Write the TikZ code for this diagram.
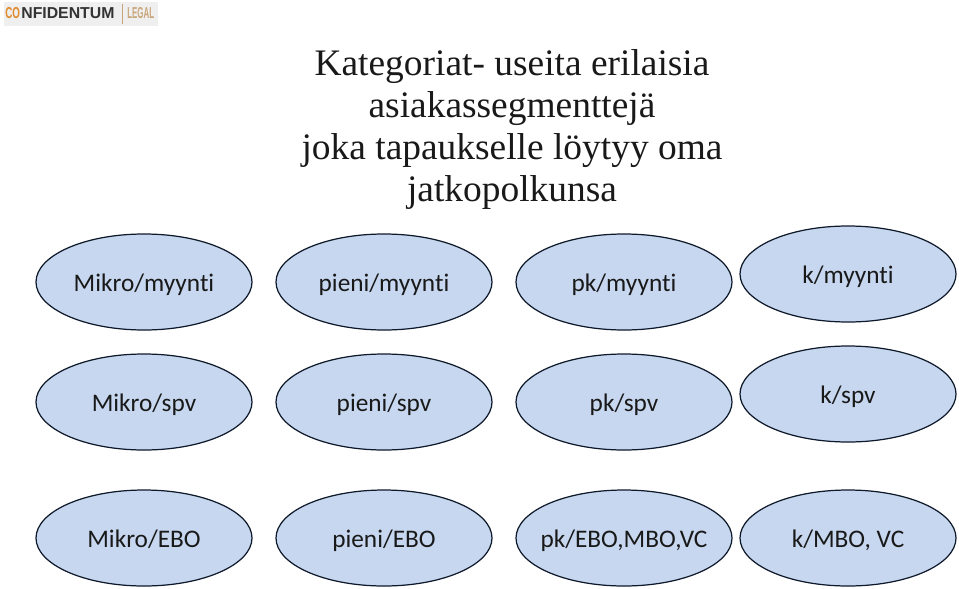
\documentclass[tikz,border=0pt]{standalone}
\usepackage{fontspec}
\setmainfont{Liberation Serif}
\newfontfamily\bodyfont[Ligatures=NoCommon]{Carlito}
\newfontfamily\logofont{Liberation Sans}
\usepackage[svgnames]{xcolor}
\usetikzlibrary{shapes.geometric}
\definecolor{ovalfill}{HTML}{C6D7EF}
\definecolor{ovaledge}{HTML}{0F1A2B}
\definecolor{logoorange}{HTML}{E08A2C}
\definecolor{logotan}{HTML}{C9A679}
\definecolor{logoback}{HTML}{EFEFEF}
\newcommand{\pxu}{*0.02cm}
\newcommand{\ovaltext}[1]{\raisebox{-0.18cm}[0pt][0pt]{\makebox[0pt][c]{#1}}}
\tikzset{
	oval/.style={ellipse,draw=ovaledge,fill=ovalfill,line width=0.7pt,minimum width=216\pxu,minimum height=96\pxu,inner sep=0pt,text=black!90,font=\bodyfont\fontsize{14.4}{16}\selectfont},
	titleline/.style={text=black!90,inner sep=0pt,anchor=base,font=\fontsize{21.3}{24}\selectfont},
	logotext/.style={inner sep=0pt,anchor=base west,font=\logofont\bfseries\fontsize{9}{10}\selectfont},
}
\begin{document}
\begin{tikzpicture}[x=0.02cm,y=-0.02cm]
	\useasboundingbox (0,0) rectangle (959,588);
	% logo
	\fill[logoback] (4,2) rectangle (158,26);
	\node[logotext,text=logoorange] (logoco) at (5,19) {\scalebox{0.62}[1]{CO}};
	\node[logotext,text=black!80] (logoname) at (21,19) {NFIDENTUM};
	\draw[logotan,line width=0.5pt] (122,4)--(122,24);
	\node[logotext,text=logotan] (logolegal) at (127,19) {\scalebox{0.5}[1]{LEGAL}};
	% title
	\node[titleline] (title1) at (512,75) {Kategoriat- useita erilaisia};
	\node[titleline] (title2) at (512,117) {asiakassegmenttejä};
	\node[titleline] (title3) at (512,159) {joka tapaukselle löytyy oma};
	\node[titleline] (title4) at (512,201) {jatkopolkunsa};
	% ovals
	\node[oval] (mikromyynti) at (144,282) {\ovaltext{Mikro/myynti}};
	\node[oval] (pienimyynti) at (384,282) {\ovaltext{pieni/myynti}};
	\node[oval] (pkmyynti) at (624,282) {\ovaltext{pk/myynti}};
	\node[oval] (kmyynti) at (848,274) {\ovaltext{k/myynti}};
	\node[oval] (mikrospv) at (144,402) {\ovaltext{Mikro/spv}};
	\node[oval] (pienispv) at (384,402) {\ovaltext{pieni/spv}};
	\node[oval] (pkspv) at (624,402) {\ovaltext{pk/spv}};
	\node[oval] (kspv) at (848,394) {\ovaltext{k/spv}};
	\node[oval] (mikroebo) at (144,538) {\ovaltext{Mikro/EBO}};
	\node[oval] (pieniebo) at (384,538) {\ovaltext{pieni/EBO}};
	\node[oval] (pkebo) at (624,538) {\ovaltext{pk/EBO,MBO,VC}};
	\node[oval] (kmbo) at (848,538) {\ovaltext{k/MBO, VC}};
\end{tikzpicture}
\end{document}
